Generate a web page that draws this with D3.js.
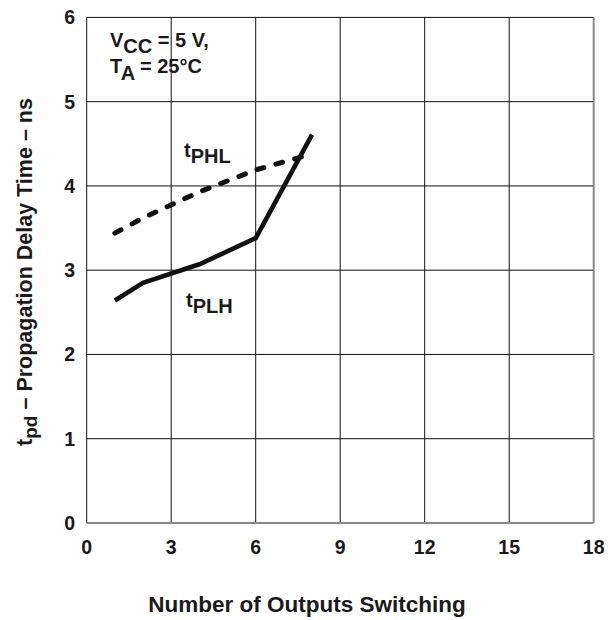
<!DOCTYPE html>
<html><head><meta charset="utf-8">
<script src="https://cdn.jsdelivr.net/npm/d3@7"></script>
<style>
body{margin:0;background:#fff;}
text{font-family:"Liberation Sans",Arial,Helvetica,sans-serif;font-weight:bold;fill:#1a1a1a;}
</style></head><body>
<svg id="c" width="608" height="620"></svg>
<script>
const outputs = [1, 2, 4, 6, 8];
const tPLH = [2.64, 2.85, 3.07, 3.38, 4.61];
const tPHL = [3.44, 3.62, 3.93, 4.19, 4.38];
const xTicks = [0, 3, 6, 9, 12, 15, 18];
const yTicks = [0, 1, 2, 3, 4, 5, 6];

const svg = d3.select("#c");
const x = d3.scaleLinear().domain([0, 18]).range([86.7, 593.7]);
const y = d3.scaleLinear().domain([0, 6]).range([523, 17.4]);

// grid
svg.append("g").selectAll("line").data(xTicks.slice(1, -1)).join("line")
  .attr("x1", d => x(d)).attr("x2", d => x(d)).attr("y1", y(6)).attr("y2", y(0))
  .attr("stroke", "#111").attr("stroke-width", 1);
svg.append("g").selectAll("line").data(yTicks.slice(1, -1)).join("line")
  .attr("y1", d => y(d)).attr("y2", d => y(d)).attr("x1", x(0)).attr("x2", x(18))
  .attr("stroke", "#111").attr("stroke-width", 1);
// frame
svg.append("line").attr("x1", x(0)).attr("x2", x(18)).attr("y1", y(6)).attr("y2", y(6)).attr("stroke", "#111").attr("stroke-width", 1);
svg.append("line").attr("x1", x(0)).attr("x2", x(0)).attr("y1", y(6)).attr("y2", y(0)).attr("stroke", "#111").attr("stroke-width", 1);
svg.append("line").attr("x1", x(0)).attr("x2", x(18)).attr("y1", y(0)).attr("y2", y(0)).attr("stroke", "#888").attr("stroke-width", 2);
svg.append("line").attr("x1", x(18)).attr("x2", x(18)).attr("y1", y(6)).attr("y2", y(0)).attr("stroke", "#888").attr("stroke-width", 2);

// tick labels
svg.append("g").selectAll("text").data(xTicks).join("text")
  .attr("x", d => x(d)).attr("y", 554).attr("text-anchor", "middle")
  .attr("font-size", 19.5).text(d => d);
svg.append("g").selectAll("text").data(yTicks).join("text")
  .attr("x", 75).attr("y", d => y(d) + 7).attr("text-anchor", "end")
  .attr("font-size", 19.5).text(d => d);

// lines
const line = (vals) => d3.line().x((d, i) => x(outputs[i])).y(d => y(d))(vals);
svg.append("path").attr("d", line(tPHL)).attr("fill", "none").attr("stroke", "#111")
  .attr("stroke-width", 5).attr("stroke-linecap", "round").attr("stroke-dasharray", "7 12.5");
svg.append("path").attr("d", line(tPLH)).attr("fill", "none").attr("stroke", "#111")
  .attr("stroke-width", 4.6).attr("stroke-linejoin", "miter");

// series labels
function sub(xp, yp, main, s, fs, dy) {
  const t = svg.append("text").attr("x", xp).attr("y", yp).attr("font-size", fs);
  t.append("tspan").text(main);
  t.append("tspan").attr("dy", dy).text(s);
  return t;
}
sub(184, 157, "t", "PHL", 20, 6);
sub(186, 307, "t", "PLH", 20, 6);

// conditions
const c1 = svg.append("text").attr("x", 110).attr("y", 47).attr("font-size", 20);
c1.append("tspan").text("V");
c1.append("tspan").attr("dy", 6).text("CC");
c1.append("tspan").attr("dy", -6).text(" = 5 V,");
const c2 = svg.append("text").attr("x", 110).attr("y", 73).attr("font-size", 20);
c2.append("tspan").text("T");
c2.append("tspan").attr("dy", 7).text("A");
c2.append("tspan").attr("dy", -7).text(" = 25\u00B0C");

// axis titles
svg.append("text").attr("x", 307).attr("y", 612).attr("text-anchor", "middle")
  .attr("font-size", 22.5).text("Number of Outputs Switching");
const yl = svg.append("text").attr("transform", "translate(32,272) rotate(-90)")
  .attr("text-anchor", "middle").attr("font-size", 21.5);
yl.append("tspan").text("t");
yl.append("tspan").attr("dy", 5).attr("font-size", 19).text("pd");
yl.append("tspan").attr("dy", -5).text(" \u2013 Propagation Delay Time \u2013 ns");
</script></body></html>
